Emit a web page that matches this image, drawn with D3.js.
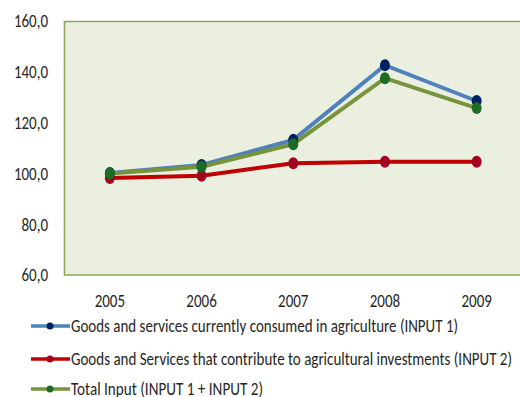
<!DOCTYPE html>
<html>
<head>
<meta charset="utf-8">
<script src="https://cdn.jsdelivr.net/npm/d3@7"></script>
<style>
  body { margin: 0; background: #fff; }
  text { font-family: Carlito, "Liberation Sans Narrow", "DejaVu Sans Condensed", sans-serif; fill: #262626; }
</style>
</head>
<body>
<div id="chart"></div>
<script>
// chart data
var years = ['2005', '2006', '2007', '2008', '2009'];
var input1 = [100.2, 103.3, 113.2, 142.6, 128.5];
var input2 = [98.2, 99.1, 104.0, 104.6, 104.6];
var totalInput = [100.0, 102.6, 111.5, 137.5, 125.7];
var seriesNames = [
    'Goods and services currently consumed in agriculture (INPUT 1)',
    'Goods and Services that contribute to agricultural investments (INPUT 2)',
    'Total Input (INPUT 1 + INPUT 2)'
];
var yTicks = [60, 80, 100, 120, 140, 160];

var series = [
    { name: seriesNames[0], values: input1, line: '#4f81bd', dot: '#002060' },
    { name: seriesNames[1], values: input2, line: '#c00000', dot: '#a50021' },
    { name: seriesNames[2], values: totalInput, line: '#77933c', dot: '#1e6b24' }
];

var margin = { top: 21, left: 64 },
    width = 5 * 91.7,
    height = 254,
    stretch = 1.2;  // the original text looks tall and narrow

var svg = d3.select('#chart')
    .append('svg')
    .attr('width', 520)
    .attr('height', 397);

var g = svg.append('g')
    .attr('transform', 'translate(' + margin.left + ',' + margin.top + ')');

var x = d3.scaleBand()
    .domain(years)
    .range([0, width]);

var y = d3.scaleLinear()
    .domain([60, 160])
    .range([height, 0]);

// plot area
g.append('rect')
    .attr('width', width)
    .attr('height', height)
    .attr('fill', '#ebefdf');

g.append('path')
    .attr('d', 'M' + width + ',0.5H0.5V' + height + 'H' + width)
    .attr('fill', 'none')
    .attr('stroke', '#8ea65a')
    .attr('stroke-width', 1.6);

// y axis labels
g.selectAll('.ylab')
    .data(yTicks)
    .enter()
    .append('text')
    .attr('transform', d => 'translate(-16,' + y(d) + ') scale(1,' + stretch + ')')
    .attr('dy', '0.35em')
    .attr('text-anchor', 'end')
    .style('font-size', '15px')
    .text(d => d3.format('.1f')(d).replace('.', ','));

// x axis labels
g.selectAll('.xlab')
    .data(years)
    .enter()
    .append('text')
    .attr('transform', d => 'translate(' + (x(d) + x.bandwidth() / 2) + ',' + (height + 32) + ') scale(1,' + stretch + ')')
    .attr('text-anchor', 'middle')
    .style('font-size', '15px')
    .text(d => d);

var line = d3.line()
    .x((d, i) => x(years[i]) + x.bandwidth() / 2)
    .y(d => y(d));

series.forEach(s => {
    g.append('path')
        .datum(s.values)
        .attr('d', line)
        .attr('fill', 'none')
        .attr('stroke', s.line)
        .attr('stroke-width', 4);
});

series.forEach(s => {
    g.selectAll(null)
        .data(s.values)
        .enter()
        .append('ellipse')
        .attr('cx', (d, i) => x(years[i]) + x.bandwidth() / 2)
        .attr('cy', d => y(d))
        .attr('rx', 5)
        .attr('ry', 6)
        .attr('fill', s.dot);
});

// legend
var legend = svg.append('g');
var rowY = [326, 359, 389];
var textEnd = [458, 512, 263];

series.forEach((s, i) => {
    var row = legend.append('g')
        .attr('transform', 'translate(0,' + rowY[i] + ')');
    row.append('line')
        .attr('x1', 31).attr('x2', 70)
        .attr('stroke', s.line)
        .attr('stroke-width', 3.5);
    row.append('circle')
        .attr('cx', 50)
        .attr('r', 3.5)
        .attr('fill', s.dot);
    row.append('text')
        .attr('transform', 'translate(71,0) scale(1,' + stretch + ')')
        .attr('dy', '0.35em')
        .attr('textLength', textEnd[i] - 71)
        .attr('lengthAdjust', 'spacingAndGlyphs')
        .style('font-size', '14.5px')
        .text(s.name);
});
</script>
</body>
</html>
